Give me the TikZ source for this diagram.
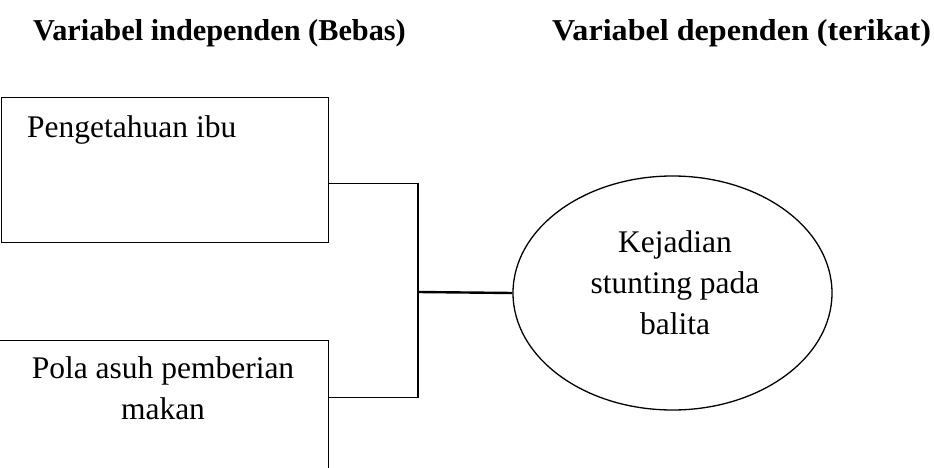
\documentclass[tikz,border=0pt]{standalone}
\usepackage{fontspec}
\setmainfont{Liberation Serif}
\usetikzlibrary{positioning,shapes.geometric}

\begin{document}
\begin{tikzpicture}[
    x=1pt, y=-1pt,
    kotak/.style={draw, line width=1.3pt, inner sep=0pt, anchor=north west},
    teks/.style={inner sep=0pt, font=\fontsize{31.5}{41}\selectfont, align=center},
    judul/.style={inner sep=0pt, anchor=base west, font=\bfseries\fontsize{30.3}{36}\selectfont},
    garis/.style={line width=1.3pt}
]

\clip (0,0) rectangle (934,468);

% judul kolom
\node[judul] (bebas) at (33,41) {Variabel independen (Bebas)};
\node[judul, xscale=1.06, transform shape] (terikat) at (552,41) {Variabel dependen (terikat)};

% variabel bebas
\node[kotak, minimum width=327, minimum height=145] (pengetahuan) at (1,97) {};
\node[teks, anchor=base west] (pengetahuanTxt) at (27,138) {Pengetahuan ibu};

\node[kotak, minimum width=340, minimum height=160] (polaasuh) at (-12,340) {};
\node[teks, anchor=north] (polaasuhTxt) at (163,356.5) {Pola asuh pemberian\\makan};

% variabel terikat
\node[draw, ellipse, line width=1.3pt, minimum width=319, minimum height=234, inner sep=0pt] (stunting) at (672.5,293) {};
\node[teks, anchor=north] (stuntingTxt) at (675,230.5) {Kejadian\\stunting pada\\balita};

% garis penghubung
\coordinate (cabang) at (418,292);
\draw[garis] ([yshift=-13.5pt]pengetahuan.east) -| (cabang);
\draw[garis] ([yshift=23pt]polaasuh.east) -| (cabang);
\draw[line width=2.4pt] (cabang) -- (stunting.west);

\end{tikzpicture}
\end{document}
